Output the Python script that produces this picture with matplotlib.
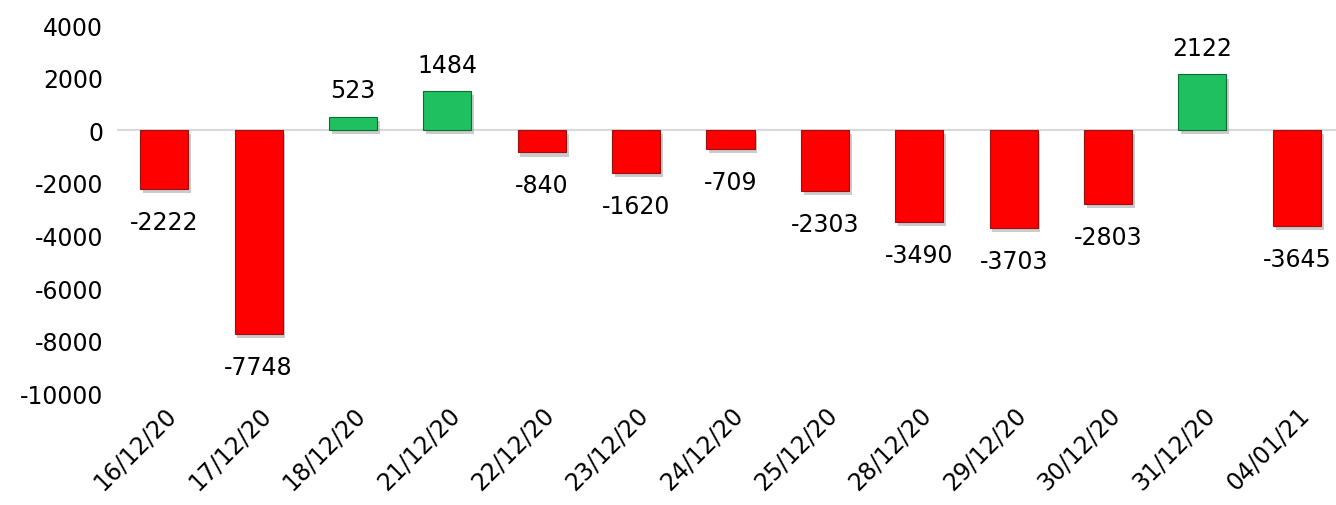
import matplotlib
matplotlib.use('Agg')
import matplotlib.pyplot as plt
import matplotlib.patheffects as pe

plt.rcParams['axes.unicode_minus'] = False

# data
dates = ['16/12/20', '17/12/20', '18/12/20', '21/12/20', '22/12/20', '23/12/20', '24/12/20',
         '25/12/20', '28/12/20', '29/12/20', '30/12/20', '31/12/20', '04/01/21']
values = [-2222, -7748, 523, 1484, -840, -1620, -709, -2303, -3490, -3703, -2803, 2122, -3645]

red = '#FF0000'
green = '#1FC060'

fig = plt.figure(figsize=(13.36, 5.06), dpi=100)
# axes a bit wider than the figure, the original is cropped on the right
ax = fig.add_axes([117/1336, 1 - 394.5/506, 1227/1336, (394.5 - 26)/506])

x = list(range(len(values)))
colors = [green if v > 0 else red for v in values]
bars = ax.bar(x, values, width=0.51, color=colors, edgecolor='#9a1010', linewidth=0.8, zorder=3)
for b, v in zip(bars, values):
    if v > 0:
        b.set_edgecolor('#0d6b33')
    b.set_path_effects([pe.SimplePatchShadow(offset=(2, -3), shadow_rgbFace='#999999', alpha=0.5),
                        pe.Normal()])

# value labels
for xi, v in zip(x, values):
    if v > 0:
        ax.text(xi, v + 550, str(v), ha='center', va='bottom', fontsize=17)
    else:
        ax.text(xi, v - 800, str(v), ha='center', va='top', fontsize=17)

ax.axhline(0, color='#d9d9d9', linewidth=1.5, zorder=1)
ax.set_xlim(-0.5, len(values) - 0.5)
ax.set_ylim(-10000, 4000)
ax.set_yticks(range(-10000, 4001, 2000))
ax.tick_params(axis='y', length=0, labelsize=17, pad=10)
ax.set_xticks(x)
ax.set_xticklabels(dates, rotation=45, ha='right', rotation_mode='anchor', fontsize=17)
ax.tick_params(axis='x', length=0, pad=6)
for s in ax.spines.values():
    s.set_visible(False)

fig.savefig('out.png', dpi=100)
